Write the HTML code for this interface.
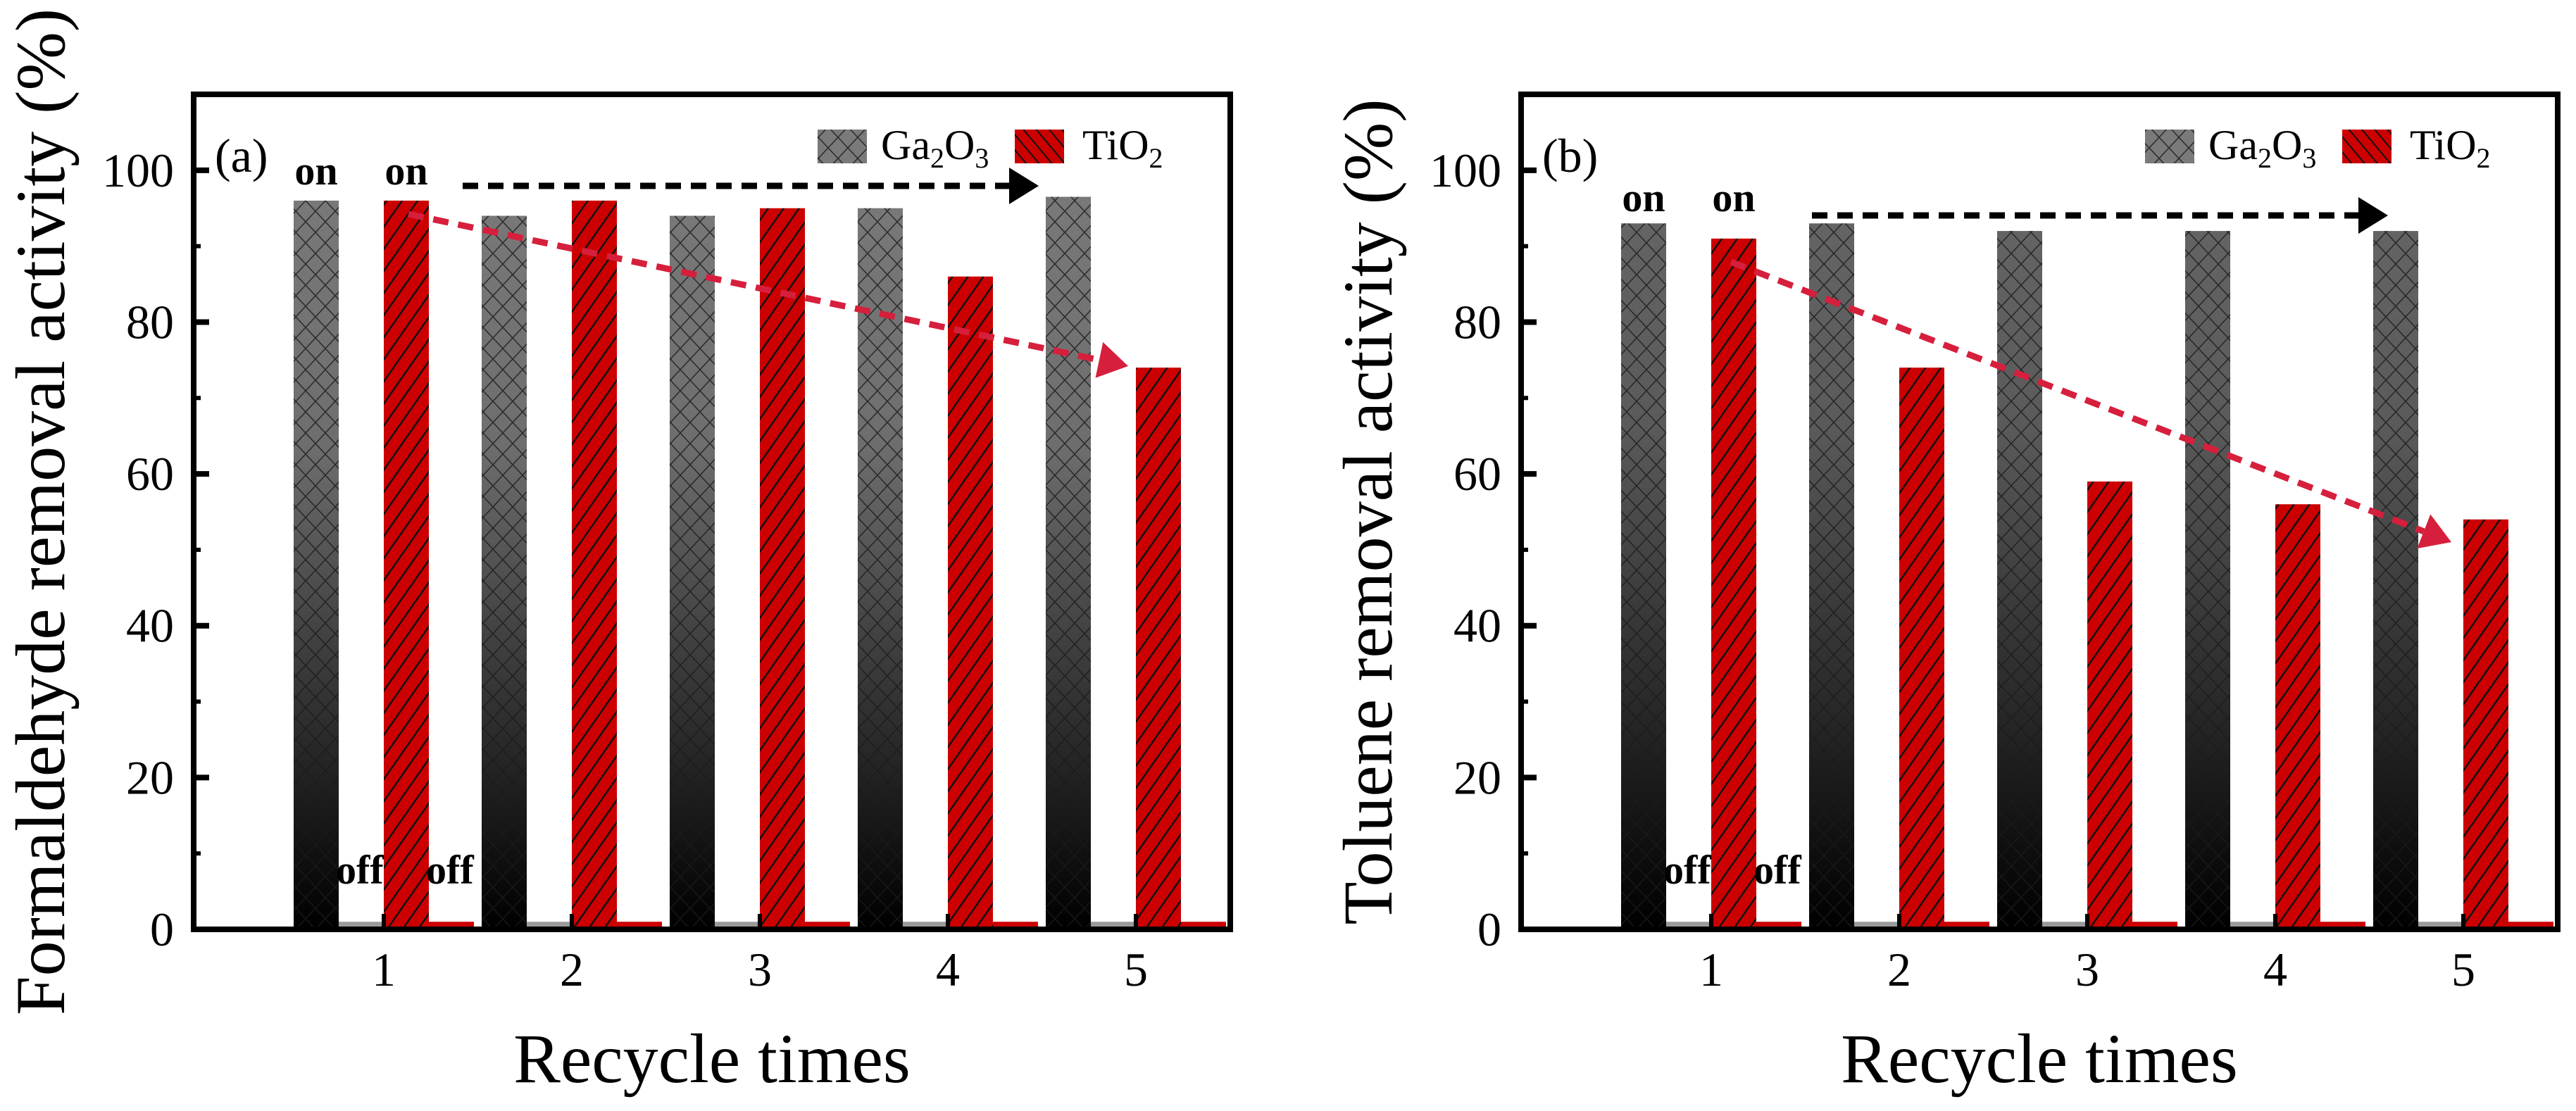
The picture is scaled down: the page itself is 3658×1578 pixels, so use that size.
<!DOCTYPE html>
<html><head><meta charset="utf-8"><style>
html,body{margin:0;padding:0;background:#fff;}
svg{display:block;font-family:"Liberation Serif","Times New Roman",serif;}
</style></head><body>
<svg id="chart" width="3658" height="1578" viewBox="0 0 3658 1578" xmlns="http://www.w3.org/2000/svg">
<defs>
  <pattern id="cross" patternUnits="userSpaceOnUse" width="28" height="30">
    <path d="M0,0 L28,30 M28,0 L0,30" stroke="#1a1a1a" stroke-width="1.6" fill="none" opacity="0.8"/>
  </pattern>
  <pattern id="hatchR" patternUnits="userSpaceOnUse" width="18" height="18" patternTransform="rotate(35)">
    <rect width="18" height="18" fill="#cc0000"/>
    <line x1="0" y1="0" x2="0" y2="18" stroke="#111" stroke-width="5"/>
  </pattern>
  <pattern id="hatchL" patternUnits="userSpaceOnUse" width="14" height="14" patternTransform="rotate(-40)">
    <rect width="14" height="14" fill="#cc0000"/>
    <line x1="0" y1="0" x2="0" y2="14" stroke="#111" stroke-width="4"/>
  </pattern>
  <linearGradient id="grayGrad" gradientUnits="userSpaceOnUse" x1="0" y1="134" x2="0" y2="1320">
    <stop offset="0" stop-color="#7d7d7d"/>
    <stop offset="0.42" stop-color="#6e6e6e"/>
    <stop offset="0.75" stop-color="#2e2e2e"/>
    <stop offset="1" stop-color="#000"/>
  </linearGradient>
  <linearGradient id="grayGradB" gradientUnits="userSpaceOnUse" x1="0" y1="134" x2="0" y2="1320">
    <stop offset="0" stop-color="#6a6a6a"/>
    <stop offset="0.4" stop-color="#5a5a5a"/>
    <stop offset="0.75" stop-color="#262626"/>
    <stop offset="1" stop-color="#000"/>
  </linearGradient>
</defs>
</svg>
<script>
// ---- data ----
const categories = [1, 2, 3, 4, 5];
const gaA = [96, 94, 94, 95, 96.5];
const tiA = [96, 96, 95, 86, 74];
const gaB = [93, 93, 92, 92, 92];
const tiB = [91, 74, 59, 56, 54];
const offValue = [1, 1, 1, 1, 1];
const yTicks = [0, 20, 40, 60, 80, 100];
const yMinor = [10, 30, 50, 70, 90];

const NS = "http://www.w3.org/2000/svg";
const svg = document.getElementById('chart');
function mk(tag, attrs, parent, text) {
  const e = document.createElementNS(NS, tag);
  for (const k in attrs) e.setAttribute(k, attrs[k]);
  if (text !== undefined) e.textContent = text;
  (parent || svg).appendChild(e);
  return e;
}
const Y0 = 1320, TOP = 134, YMAX = 110;
function yS(v) { return Y0 - v * (Y0 - TOP) / YMAX; }

function panel(L, id, ga, ti, grad, title, label, blackArrow, redArrow, onY) {
  const R = L + 1472;
  const g = mk('g', {});
  
  
  function xS(c) { return L + 270 + (c - 1) * 267; }

  // y axis title
  const yt = mk('text', {x: 0, y: 0, transform: 'translate(' + (L - 184) + ',727) rotate(-90)', 'text-anchor': 'middle', 'font-size': 100, fill: '#000'}, g, title);
  
  
  // x title
  const xt = mk('text', {x: (L + R) / 2, y: 1537, 'text-anchor': 'middle', 'font-size': 100, fill: '#000'}, g, 'Recycle times');
  
  

  // bars
  categories.forEach((c, i) => {
    const x = xS(c);
    const gy = yS(ga[i]);
    const b1 = mk('rect', {x: x - 128, y: gy, width: 64, height: Y0 - gy, fill: 'url(#' + grad + ')'}, g);
    
    
    mk('rect', {x: x - 128, y: gy, width: 64, height: Y0 - gy, fill: 'url(#cross)'}, g);
    const oy = yS(offValue[i]);
    const b2 = mk('rect', {x: x - 64, y: oy, width: 64, height: Y0 - oy, fill: '#9a9a9a'}, g);
    
    
    const ty = yS(ti[i]);
    const b3 = mk('rect', {x: x, y: ty, width: 64, height: Y0 - ty, fill: 'url(#hatchR)'}, g);
    
    
    const b4 = mk('rect', {x: x + 64, y: oy, width: 64, height: Y0 - oy, fill: '#cc0000'}, g);
    
    
  });

  // on/off labels
  const x1 = xS(1);
  [[x1 - 96, 'on'], [x1 + 32, 'on']].forEach((p, k) => {
    const t = mk('text', {x: p[0], y: onY, 'text-anchor': 'middle', 'font-size': 58, 'font-weight': 'bold', fill: '#000'}, g, p[1]);
    
    
  });
  [[x1 - 68], [x1 + 60]].forEach((p, k) => {
    const t = mk('text', {x: p[0], y: 1255, 'font-size': 58, 'font-weight': 'bold', fill: '#000'}, g, 'off');
    
    
  });

  // frame
  const fr = mk('rect', {x: L, y: TOP, width: R - L, height: Y0 - TOP, fill: 'none', stroke: '#000', 'stroke-width': 8}, g);
  
  

  // y ticks
  yTicks.forEach(v => {
    const y = yS(v);
    mk('line', {x1: L, x2: L + 22, y1: y, y2: y, stroke: '#000', 'stroke-width': 8}, g);
    const t = mk('text', {x: L - 28, y: y + 23, 'text-anchor': 'end', 'font-size': 68, fill: '#000'}, g, String(v));
    
    
  });
  yMinor.forEach(v => {
    const y = yS(v);
    mk('line', {x1: L, x2: L + 10, y1: y, y2: y, stroke: '#000', 'stroke-width': 6}, g);
  });
  // x ticks
  categories.forEach(c => {
    const x = xS(c);
    mk('line', {x1: x, x2: x, y1: Y0, y2: Y0 - 22, stroke: '#000', 'stroke-width': 6}, g);
    const t = mk('text', {x: x, y: 1400, 'text-anchor': 'middle', 'font-size': 68, fill: '#000'}, g, String(c));
    
    
  });

  // panel label
  const pl = mk('text', {x: L + 30, y: 244, 'font-size': 68, fill: '#000'}, g, label);
  
  

  // legend
  const lg = mk('g', {}, g);
  
  
  mk('rect', {x: L + 886, y: 184, width: 70, height: 48, fill: '#7a7a7a'}, lg);
  mk('rect', {x: L + 886, y: 184, width: 70, height: 48, fill: 'url(#cross)'}, lg);
  const lt1 = mk('text', {x: L + 976, y: 226, 'font-size': 60, fill: '#000'}, lg);
  
  
  lt1.innerHTML = 'Ga<tspan font-size="40" dy="12">2</tspan><tspan dy="-12">O</tspan><tspan font-size="40" dy="12">3</tspan>';
  mk('rect', {x: L + 1166, y: 184, width: 70, height: 48, fill: 'url(#hatchL)'}, lg);
  const lt2 = mk('text', {x: L + 1262, y: 226, 'font-size': 60, fill: '#000'}, lg);
  
  
  lt2.innerHTML = 'TiO<tspan font-size="40" dy="12">2</tspan>';

  // arrows
  function arrow(a, color, name) {
    const [xa, ya, xb, yb] = a;
    const ang = Math.atan2(yb - ya, xb - xa);
    const hl = 42, hw = 26;
    const bx = xb - hl * Math.cos(ang), by = yb - hl * Math.sin(ang);
    const ln = mk('line', {x1: xa, y1: ya, x2: bx, y2: by, stroke: color, 'stroke-width': 9, 'stroke-dasharray': '22,14'}, g);
    
    
    const px = -Math.sin(ang), py = Math.cos(ang);
    const hd = mk('polygon', {points: xb + ',' + yb + ' ' + (bx + hw * px) + ',' + (by + hw * py) + ' ' + (bx - hw * px) + ',' + (by - hw * py), fill: color}, g);
    
    
  }
  arrow(blackArrow, '#000', 'trend-arrow-ga2o3');
  arrow(redArrow, '#d61f3c', 'trend-arrow-tio2');
}

panel(275, 'a', gaA, tiA, 'grayGrad', 'Formaldehyde removal activity (%)', '(a)',
      [657, 264, 1475, 264], [580, 304, 1602, 520], 262);
panel(2160, 'b', gaB, tiB, 'grayGradB', 'Toluene removal activity (%)', '(b)',
      [2573, 306, 3391, 306], [2458, 372, 3481, 770], 300);
</script>
</body></html>
